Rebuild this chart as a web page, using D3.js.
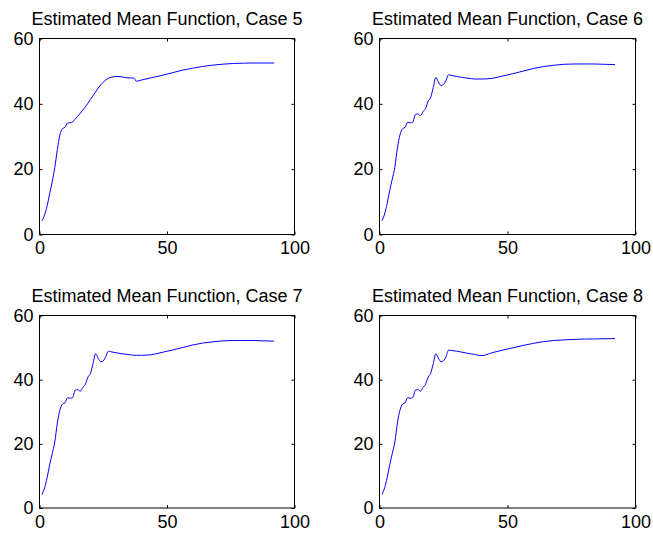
<!DOCTYPE html>
<html><head><meta charset="utf-8">
<script src="https://cdn.jsdelivr.net/npm/d3@7/dist/d3.min.js"></script>
<style>
body{margin:0;background:#fff}
svg text{font-family:"Liberation Sans",Arial,Helvetica,sans-serif}
</style>
</head><body>
<svg id="c" width="653" height="538"></svg>
<script>
// ---- data ----
const xKnots = [1,2,3,4,5,6,7,8,9,10,11,12,13,14,15,16,17,18,19,20,21,22,23,24,25,26,27,28,30,32,34,36,37,38,40,44,48,52,56,60,64,68,72,76,80,84,88,92];
const case5 = [4.2,6.0,8.8,12.5,16.2,20.5,26.0,30.5,32.4,32.8,34.1,34.2,34.5,35.3,36.2,37.1,38.1,39.1,40.2,41.4,42.5,43.6,44.8,45.8,46.6,47.3,47.8,48.1,48.4,48.3,48.0,47.9,47.9,46.9,47.3,48.0,48.7,49.5,50.3,50.9,51.45,51.85,52.15,52.35,52.45,52.5,52.5,52.5];
const case6 = [4.2,6.3,9.5,13.5,17.0,20.6,26.5,30.5,32.4,32.8,34.4,34.2,34.4,36.7,36.9,36.4,37.6,38.6,40.8,42.0,45.0,48.1,46.7,45.6,45.9,47.2,48.9,48.7,48.4,48.1,47.9,47.7,47.6,47.6,47.6,47.8,48.5,49.2,50.0,50.8,51.4,51.8,52.1,52.2,52.2,52.2,52.1,52.0];
const case7 = [4.2,6.3,9.5,13.5,17.0,20.6,26.5,30.5,32.4,32.8,34.4,34.2,34.4,36.7,36.9,36.4,37.6,38.6,40.8,42.0,45.0,48.1,46.7,45.6,45.9,47.2,48.9,48.7,48.4,48.1,47.9,47.7,47.6,47.6,47.6,47.8,48.5,49.2,50.0,50.8,51.4,51.8,52.1,52.2,52.2,52.2,52.1,52.0];
const case8 = [4.2,6.3,9.5,13.5,17.0,20.6,26.5,30.5,32.4,32.8,34.4,34.2,34.4,36.7,36.9,36.4,37.6,38.6,40.8,42.0,45.0,48.1,46.7,45.6,45.9,47.2,49.2,49.1,48.9,48.6,48.3,48.0,47.9,47.7,47.5,48.4,49.2,49.9,50.65,51.3,51.85,52.2,52.4,52.55,52.65,52.7,52.75,52.8];
const titles = ["Estimated Mean Function, Case 5","Estimated Mean Function, Case 6","Estimated Mean Function, Case 7","Estimated Mean Function, Case 8"];
const xTicks = [0,50,100];
const yTicks = [0,20,40,60];
const series = [case5, case6, case7, case8];

// ---- layout ----
const boxes = [
  {x0:39.5, x1:294.5, y0:38.5, y1:234.5},
  {x0:379.5, x1:635.5, y0:38.5, y1:234.5},
  {x0:39.5, x1:294.5, y0:315.5, y1:508},
  {x0:379.5, x1:635.5, y0:315.5, y1:508}
];
const FS = 18;
const svg = d3.select("#c");

boxes.forEach((b, i) => {
  const x = d3.scaleLinear().domain([0,100]).range([b.x0, b.x1]);
  const y = d3.scaleLinear().domain([0,60]).range([b.y1, b.y0]);
  const g = svg.append("g");

  // line
  const pts = xKnots.map((k, j) => [k, series[i][j]]);
  g.append("path").datum(pts)
    .attr("d", d3.line().x(d => x(d[0])).y(d => y(d[1])).curve(d3.curveMonotoneX))
    .attr("fill","none").attr("stroke","#0000ff").attr("stroke-width",1);

  // axes with inward ticks
  const ax = (axis, tx, ty, labels) => {
    const a = g.append("g").attr("transform",`translate(${tx},${ty})`).call(axis);
    a.select(".domain").remove();
    a.selectAll(".tick line").attr("stroke","#000");
    a.selectAll("text").attr("font-size",FS).attr("fill","#000");
    if (!labels) a.selectAll("text").remove();
    return a;
  };
  ax(d3.axisBottom(x).tickValues(xTicks).tickSizeInner(-3).tickSizeOuter(0).tickPadding(7), 0, b.y1, true);
  ax(d3.axisTop(x).tickValues(xTicks).tickSizeInner(-3).tickSizeOuter(0), 0, b.y0, false);
  ax(d3.axisLeft(y).tickValues(yTicks).tickSizeInner(-3).tickSizeOuter(0).tickPadding(6), b.x0, 0, true);
  ax(d3.axisRight(y).tickValues(yTicks).tickSizeInner(-3).tickSizeOuter(0), b.x1, 0, false);
  g.selectAll("g text").attr("font-family",null);

  // box
  g.append("rect").attr("x",b.x0).attr("y",b.y0)
    .attr("width",b.x1-b.x0).attr("height",b.y1-b.y0)
    .attr("fill","none").attr("stroke","#000").attr("stroke-width",1);

  // title
  g.append("text").attr("x",(b.x0+b.x1)/2).attr("y",b.y0-13.5)
    .attr("text-anchor","middle").attr("font-size",FS).attr("fill","#000")
    .text(titles[i]);
});
</script>
</body></html>
